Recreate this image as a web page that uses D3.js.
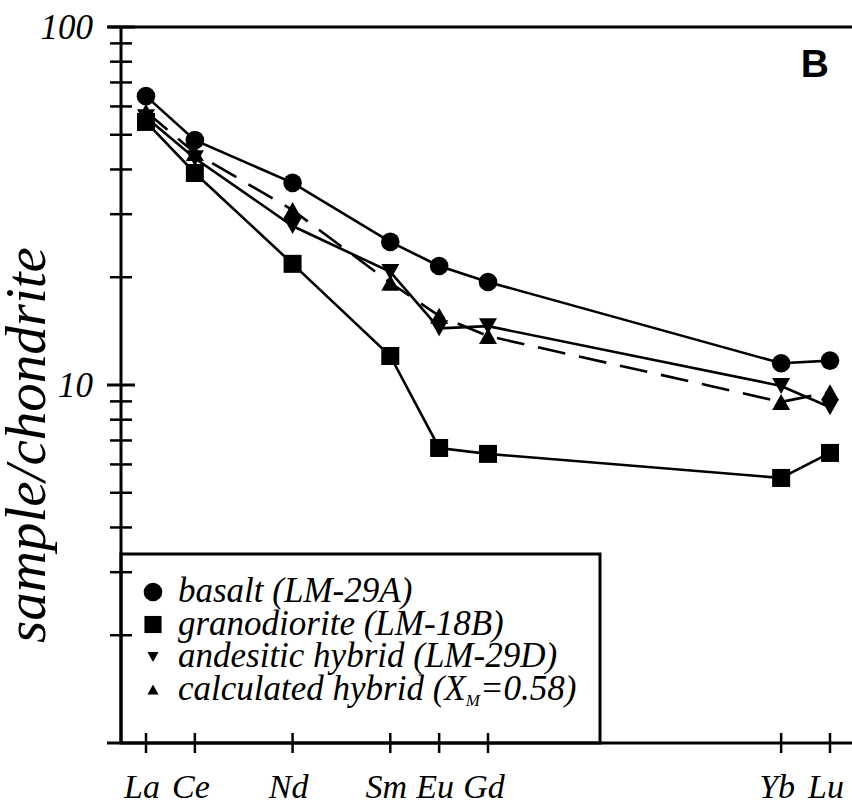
<!DOCTYPE html>
<html>
<head>
<meta charset="utf-8">
<script src="https://cdn.jsdelivr.net/npm/d3@7"></script>
<style>
html,body{margin:0;padding:0;background:#fff;}
svg{display:block;}
</style>
</head>
<body>
<svg id="chart" width="852" height="804"></svg>
<script>
// ---- data ----
const elements = ["La","Ce","Nd","Sm","Eu","Gd","Yb","Lu"];
const atomicNumbers = [57,58,60,62,63,64,70,71];
const basalt = [64.1, 48.3, 36.7, 25.1, 21.5, 19.4, 11.5, 11.7];
const granodiorite = [54.3, 39.1, 21.8, 12.05, 6.67, 6.42, 5.5, 6.46];
const andesitic = [56, 43, 27.8, 20.7, 14.4, 14.6, 9.94, 8.67];
const calculated = [58, 44.5, 30.8, 19.3, 15.6, 13.7, 8.97, 9.55];
const yMajorTicks = [10, 100];
const yMajorLabels = ["10", "100"];
const seriesNames = ["basalt (LM-29A)","granodiorite (LM-18B)","andesitic hybrid (LM-29D)","calculated hybrid (X"];

const svg = d3.select("#chart");
const x = d3.scaleLinear().domain([57,71]).range([146,830]);
const y = d3.scaleLog().domain([1,100]).range([743,27]);
const axisX = 121;

function serif(sel){
  return sel.style("font-family", '"Liberation Serif"').style("font-style","italic").attr("fill","#000");
}

// minor ticks
const minorTicks = [];
[1,10].forEach(d => { for (let k=2;k<=9;k++) minorTicks.push(d*k); });

// legend box (drawn first so ticks overlay it)
const lg = svg.append("g");
lg.append("rect").attr("x",axisX).attr("y",554).attr("width",479).attr("height",189)
  .attr("fill","#fff").attr("stroke","#000").attr("stroke-width",3);

// top border
svg.append("line").attr("x1",108).attr("x2",852).attr("y1",y(100)).attr("y2",y(100))
  .attr("stroke","#000").attr("stroke-width",3);

// y axis
const yl = svg.append("g").attr("transform",`translate(${axisX},0)`);
yl.append("line").attr("y1",y(100)).attr("y2",y(1)).attr("stroke","#000").attr("stroke-width",3);
yl.selectAll("line.minor").data(minorTicks).join("line").attr("class","minor")
  .attr("x1",-11).attr("x2",11).attr("y1",d=>y(d)).attr("y2",d=>y(d))
  .attr("stroke","#000").attr("stroke-width",2.5);
yl.selectAll("line.major").data(yMajorTicks).join("line").attr("class","major")
  .attr("x1",-14).attr("x2",14).attr("y1",d=>y(d)).attr("y2",d=>y(d))
  .attr("stroke","#000").attr("stroke-width",3);
serif(yl.selectAll("text.ylab").data(yMajorTicks).join("text").attr("class","ylab")
  .attr("x",-28).attr("y",d=>y(d)+12).attr("text-anchor","end")
  .attr("font-size",35).text((d,i)=>yMajorLabels[i]));

// x axis
const xa = svg.append("g").attr("transform","translate(0,743)");
xa.append("line").attr("x1",107).attr("x2",852).attr("stroke","#000").attr("stroke-width",3);
xa.selectAll("line.t").data(atomicNumbers).join("line").attr("class","t")
  .attr("x1",d=>x(d)).attr("x2",d=>x(d)).attr("y1",-10).attr("y2",10)
  .attr("stroke","#000").attr("stroke-width",2.5);
serif(xa.selectAll("text").data(atomicNumbers).join("text")
  .attr("x",d=>x(d)-4).attr("y",55).attr("text-anchor","middle")
  .attr("font-size",34).text((d,i)=>elements[i]));

// y label
serif(svg.append("text").attr("transform","translate(45,445) rotate(-90)")
  .attr("text-anchor","middle").attr("font-size",57).text("sample/chondrite"));

// B label
svg.append("text").attr("x",829).attr("y",77).attr("text-anchor","end")
  .style("font-family",'"Liberation Sans"')
  .attr("font-weight","bold").attr("font-size",39).text("B");

// symbols
function tri(w,h,up){
  return up ? `M0,${-h/2}L${w/2},${h/2}L${-w/2},${h/2}Z` : `M0,${h/2}L${w/2},${-h/2}L${-w/2},${-h/2}Z`;
}
function drawSymbol(g, kind, cx, cy, s){
  s = s || 1;
  if (kind==="circle") g.append("circle").attr("cx",cx).attr("cy",cy).attr("r",9.3*s).attr("fill","#000");
  else if (kind==="square") g.append("rect").attr("x",cx-9*s).attr("y",cy-9*s).attr("width",18*s).attr("height",18*s).attr("fill","#000");
  else g.append("path").attr("transform",`translate(${cx},${cy})`).attr("d",tri(18*s,16*s,kind==="up")).attr("fill","#000");
}

const series = [
  {vals: basalt, kind:"circle", dash:null},
  {vals: granodiorite, kind:"square", dash:null},
  {vals: andesitic, kind:"down", dash:null},
  {vals: calculated, kind:"up", dash:"28,14"}
];
const line = d3.line().x(d=>x(d[0])).y(d=>y(d[1]));
const plot = svg.append("g");
series.forEach(s=>{
  const pts = atomicNumbers.map((a,i)=>[a,s.vals[i]]);
  const p = plot.append("path").attr("d",line(pts)).attr("fill","none")
    .attr("stroke","#000").attr("stroke-width",2.6);
  if (s.dash) p.attr("stroke-dasharray",s.dash);
});
series.forEach(s=>{
  atomicNumbers.forEach((a,i)=>drawSymbol(plot, s.kind, x(a), y(s.vals[i])));
});

// legend entries
const legendY = [592,624.5,657,689.5];
const legendScale = [1, 0.95, 0.62, 0.62];
series.forEach((s,i)=>{
  drawSymbol(lg, s.kind, 153, legendY[i], legendScale[i]);
});
seriesNames.forEach((n,i)=>{
  const t = serif(lg.append("text").attr("x",178).attr("y",legendY[i]+10).attr("font-size",35));
  t.append("tspan").text(n);
  if (i===3){
    t.append("tspan").attr("font-size",17).attr("dy",6).text("M");
    t.append("tspan").attr("dy",-6).text("=0.58)");
  }
});
</script>
</body>
</html>
